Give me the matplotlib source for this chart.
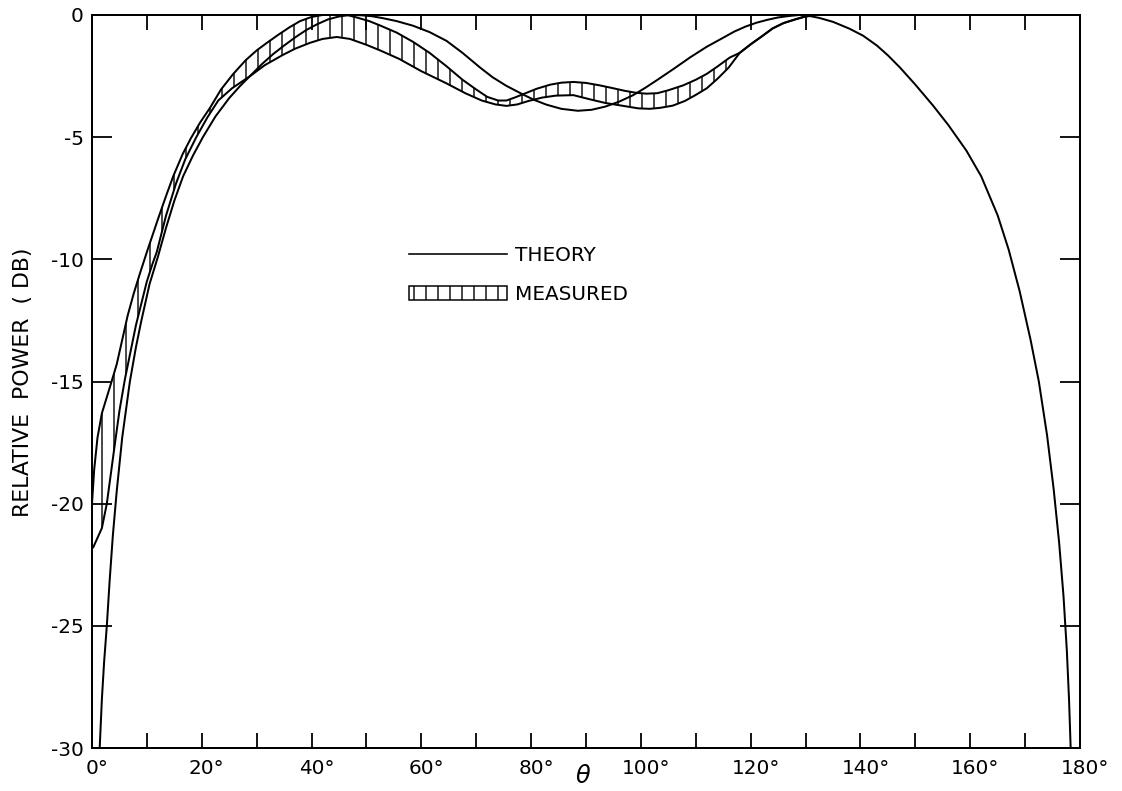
import numpy as np
import matplotlib
matplotlib.use("Agg")
import matplotlib.pyplot as plt
from matplotlib.lines import Line2D
from matplotlib.patches import Patch
import matplotlib.transforms as mtransforms

# ---------------- data ----------------
theory_theta = [1.4, 1.8, 2.2, 2.7, 3.2, 3.8, 4.5, 5.5, 6.9, 8.0, 9.0, 10.5, 12.0,
                13.5, 15.0, 16.6, 18.4, 20.2, 22.5, 25.0, 27.0, 29.0, 31.0, 33.0,
                35.0, 37.0, 39.0, 41.0, 43.0, 45.0, 47.0, 49.0, 51.0, 53.0, 55.5,
                58.5, 61.5, 64.6, 67.5, 70.7, 73.0, 75.5, 78.5, 80.5, 82.8, 85.5,
                88.5, 91.0, 93.5, 96.0, 98.6, 100.8, 102.9, 106.0, 109.0, 112.0,
                115.0, 117.0, 119.0, 121.0, 123.0, 125.0, 127.0, 128.8, 130.5,
                132.5, 135.0, 138.0, 140.5, 143.0, 145.0, 147.2, 150.0, 153.2,
                156.0, 159.3, 162.0, 165.0, 167.0, 169.0, 171.0, 172.5, 174.0,
                175.2, 176.2, 177.0, 177.6, 178.0, 178.3]
theory_db = [-30.0, -28.0, -26.5, -25.0, -23.2, -21.3, -19.5, -17.3, -15.0, -13.6,
             -12.5, -11.0, -9.9, -8.7, -7.6, -6.6, -5.75, -5.0, -4.15, -3.4, -2.9,
             -2.45, -2.0, -1.6, -1.25, -0.92, -0.62, -0.38, -0.18, -0.06, 0.0,
             -0.01, -0.05, -0.13, -0.25, -0.44, -0.7, -1.06, -1.55, -2.15, -2.55,
             -2.9, -3.25, -3.47, -3.67, -3.84, -3.92, -3.88, -3.75, -3.55, -3.28,
             -2.98, -2.67, -2.2, -1.73, -1.3, -0.93, -0.68, -0.48, -0.32, -0.2,
             -0.1, -0.04, 0.0, -0.03, -0.12, -0.28, -0.56, -0.85, -1.25, -1.65,
             -2.15, -2.85, -3.7, -4.5, -5.55, -6.6, -8.2, -9.6, -11.3, -13.3,
             -15.0, -17.2, -19.4, -21.6, -23.8, -26.0, -28.0, -30.0]

meas_upper_theta = [0.0, 0.4, 1.0, 1.8, 3.3, 4.5, 5.5, 6.5, 7.6, 8.7, 10.0, 12.1,
                    13.5, 14.8, 16.5, 18.0, 19.7, 21.5, 23.5, 25.7, 28.0, 30.0,
                    31.8, 34.0, 36.0, 37.9, 40.0, 42.0, 46.5, 48.2, 50.5, 52.5,
                    55.5, 58.5, 61.5, 64.6, 67.5, 70.0, 72.0, 74.0, 75.5, 77.0,
                    79.0, 81.0, 83.5, 85.5, 87.7, 90.0, 92.5, 95.0, 97.0, 99.0,
                    101.0, 103.0, 105.0, 107.7, 110.0, 112.0, 114.0, 116.2, 118.0,
                    120.0, 122.0, 124.0, 126.0, 128.4, 130.0, 131.5]
meas_upper_db = [-20.0, -18.6, -17.3, -16.3, -15.2, -14.3, -13.3, -12.3, -11.4,
                 -10.6, -9.7, -8.3, -7.4, -6.6, -5.7, -5.05, -4.4, -3.8, -3.05,
                 -2.42, -1.85, -1.45, -1.15, -0.8, -0.5, -0.25, -0.08, 0.0, 0.0,
                 -0.1, -0.25, -0.43, -0.72, -1.1, -1.55, -2.1, -2.65, -3.05, -3.35,
                 -3.5, -3.5, -3.38, -3.2, -3.02, -2.85, -2.77, -2.74, -2.78, -2.88,
                 -3.0, -3.1, -3.18, -3.22, -3.2, -3.08, -2.88, -2.65, -2.41, -2.1,
                 -1.74, -1.55, -1.2, -0.88, -0.55, -0.33, -0.16, -0.06, -0.02]

meas_lower_theta = [0.2, 1.0, 1.8, 2.7, 3.3, 4.2, 5.0, 6.0, 7.0, 8.0, 9.0, 10.0,
                    11.0, 11.8, 13.5, 15.3, 17.0, 19.0, 21.0, 23.0, 25.5, 28.8,
                    31.5, 34.8, 37.0, 39.7, 42.0, 44.6, 47.0, 50.0, 52.5, 56.0,
                    60.0, 64.6, 68.0, 71.0, 73.5, 75.5, 77.5, 79.5, 82.0, 84.5,
                    87.7, 90.7, 93.5, 96.8, 99.5, 101.6, 103.5, 105.8, 108.0,
                    110.0, 112.0, 114.0, 116.0, 118.0, 120.0, 122.0, 124.0, 126.0,
                    128.4, 130.0, 131.5]
meas_lower_db = [-21.8, -21.4, -21.0, -20.0, -19.0, -17.5, -16.2, -14.9, -13.8,
                 -12.7, -11.8, -10.9, -10.2, -9.7, -8.2, -6.9, -5.9, -5.0, -4.2,
                 -3.5, -3.0, -2.5, -2.05, -1.63, -1.38, -1.14, -0.98, -0.9, -0.98,
                 -1.22, -1.45, -1.8, -2.3, -2.8, -3.2, -3.5, -3.66, -3.72, -3.66,
                 -3.52, -3.38, -3.3, -3.28, -3.45, -3.6, -3.72, -3.82, -3.84, -3.8,
                 -3.71, -3.52, -3.27, -3.0, -2.6, -2.15, -1.55, -1.2, -0.88, -0.55,
                 -0.33, -0.16, -0.06, -0.02]

x_major_ticks = [0, 20, 40, 60, 80, 100, 120, 140, 160, 180]
x_tick_labels = ["0°", "20°", "40°", "60°", "80°", "100°", "120°", "140°", "160°", "180°"]
x_minor_ticks = [10, 30, 50, 70, 90, 110, 130, 150, 170]
y_ticks = [0, -5, -10, -15, -20, -25, -30]
y_tick_labels = ["0", "-5", "-10", "-15", "-20", "-25", "-30"]
legend_labels = ["THEORY", "MEASURED"]

# ---------------- figure ----------------
plt.rcParams["font.family"] = ["DejaVu Sans"]
plt.rcParams["hatch.linewidth"] = 1.4

DPI = 72
fig = plt.figure(figsize=(1122 / DPI, 791 / DPI), dpi=DPI)
ax = fig.add_axes([92 / 1122, 1 - 748 / 791, 988 / 1122, 733 / 791])

ut = np.asarray(meas_upper_theta)
ud = np.asarray(meas_upper_db)
lt = np.asarray(meas_lower_theta)
ld = np.asarray(meas_lower_db)

# hatched measured band
ax.fill(np.r_[ut, lt[::-1]], np.r_[ud, ld[::-1]], facecolor="none",
        edgecolor="black", hatch="|", linewidth=0)
ax.plot(ut, ud, color="black", lw=2.0, solid_capstyle="round", solid_joinstyle="round")
ax.plot(lt, ld, color="black", lw=2.0, solid_capstyle="round", solid_joinstyle="round")

# theory
ax.plot(theory_theta, theory_db, color="black", lw=2.0, solid_joinstyle="round")

ax.set_xlim(0, 180)
ax.set_ylim(-30, 0)

ax.set_xticks(x_major_ticks)
ax.set_xticklabels(x_tick_labels)
ax.set_xticks(x_minor_ticks, minor=True)
ax.set_yticks(y_ticks)
ax.set_yticklabels(y_tick_labels)

ax.tick_params(axis="x", which="both", direction="in", length=15, width=1.8,
               top=True, bottom=True, labelsize=20, pad=11)
ax.tick_params(axis="y", which="both", direction="in", length=20, width=1.8,
               left=True, right=True, labelsize=20, pad=8)

# degree sign hangs to the right of the tick
offset = mtransforms.ScaledTranslation(5 / 72, 0, fig.dpi_scale_trans)
for lab in ax.get_xticklabels():
    lab.set_transform(lab.get_transform() + offset)

for sp in ax.spines.values():
    sp.set_linewidth(2.0)

ax.set_xlabel(r"$\theta$", fontsize=24)
ax.xaxis.set_label_coords(0.4966, -0.022)

fig.text(23 / 1122, 1 - 382 / 791, "RELATIVE  POWER  ( DB)", rotation=90,
         ha="center", va="center", fontsize=22)

handles = [Line2D([], [], color="black", lw=1.6),
           Patch(facecolor="white", edgecolor="black", hatch="|", linewidth=1.5)]
ax.legend(handles, legend_labels, loc="center left",
          bbox_to_anchor=((409 - 92) / 988, (748 - 275) / 733),
          frameon=False, fontsize=20, handlelength=4.9, handleheight=0.75,
          handletextpad=0.4, labelspacing=1.0, borderpad=0, borderaxespad=0)

fig.savefig("out.png", dpi=DPI, facecolor="white")
